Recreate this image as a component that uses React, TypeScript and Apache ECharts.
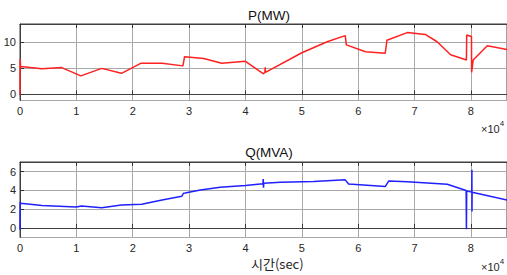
import React, { useEffect, useRef } from "react";
import * as echarts from "echarts";

const pTitle = "P(MW)";
const qTitle = "Q(MVA)";
const xName = "시간(sec)";

const pData: [number, number][] = [
  [0, 0], [30, 6.8], [100, 5.35], [3900, 4.95], [7400, 5.15], [10800, 3.57],
  [14500, 5.0], [18000, 4.05], [21500, 6.0], [25200, 6.0], [28900, 5.48],
  [29200, 7.25], [32600, 6.9], [35800, 6.0], [40000, 6.35], [43200, 3.95],
  [43450, 4.3], [43500, 5.2], [43550, 4.25], [50000, 8.0], [54500, 10.1],
  [57700, 11.27], [57900, 9.5], [61300, 8.2], [64800, 7.9], [65100, 10.4],
  [68700, 11.85], [71900, 11.5], [74000, 10.1], [76400, 7.6], [79200, 6.6],
  [79250, 11.4], [80100, 11.1], [80120, 4.25], [80400, 6.6], [82900, 9.35],
  [86400, 8.6],
];

const qData: [number, number][] = [
  [0, -0.2], [30, 2.8], [100, 2.62], [3900, 2.38], [10000, 2.23], [10900, 2.34],
  [14500, 2.16], [18000, 2.45], [21600, 2.52], [25200, 2.98], [28700, 3.37],
  [29000, 3.7], [29300, 3.72], [32000, 4.05], [35500, 4.34], [40000, 4.52],
  [43100, 4.72], [43150, 5.23], [43200, 4.3], [43250, 4.77], [46200, 4.88],
  [52100, 4.95], [57700, 5.13], [58300, 4.68], [64800, 4.41], [65400, 5.0],
  [68700, 4.93], [75800, 4.66], [79150, 4.0], [79200, -0.15], [79250, 3.95],
  [80150, 3.82], [80170, 6.2], [80190, 1.74], [80210, 3.8], [86400, 2.98],
];

const xMax = 86400;
const xInterval = 10000;

export default function App() {
  const ref = useRef<HTMLDivElement>(null);
  useEffect(() => {
    document.body.style.margin = "0";
    const chart = echarts.init(ref.current!, null, { renderer: "svg" });
    const font = "Liberation Sans, Arial, sans-serif";
    const gridLine = { show: true, lineStyle: { color: "#a8a8a8", width: 1 } };
    const tick = { show: true, inside: true, length: 4, lineStyle: { color: "#333" } };
    const axisLine = { show: true, lineStyle: { color: "#404040", width: 1 } };
    const label = { color: "#262626", fontSize: 11, fontFamily: font };
    const mkX = (gi: number) => ({
      type: "value",
      gridIndex: gi,
      min: 0,
      max: xMax,
      interval: xInterval,
      axisLine,
      axisTick: tick,
      splitLine: gridLine,
      axisLabel: {
        ...label,
        margin: 5,
        showMaxLabel: false,
        formatter: (v: number) => String(v / 10000),
      },
    });
    const mkXTop = (gi: number) => ({
      type: "value",
      gridIndex: gi,
      position: "top",
      min: 0,
      max: xMax,
      interval: xInterval,
      axisLine,
      axisTick: tick,
      splitLine: { show: false },
      axisLabel: { show: false },
    });
    const rich = {
      a: { fontSize: 11, fontFamily: font, fill: "#262626", padding: [4, 0, 0, 0] },
      b: { fontSize: 8, fontFamily: font, fill: "#262626", verticalAlign: "top", padding: [0, 0, 4, 0] },
    };
    chart.setOption({
      animation: false,
      grid: [
        { left: 20, top: 24, width: 487, height: 76.5, show: true, borderColor: "#404040", borderWidth: 1 },
        { left: 20, top: 162, width: 487, height: 75.5, show: true, borderColor: "#404040", borderWidth: 1 },
      ],
      title: [
        { text: pTitle, left: 264, top: 2, textAlign: "center", textStyle: { fontSize: 13.5, fontWeight: "normal", color: "#111", fontFamily: font, lineHeight: 16 } },
        { text: qTitle, left: 264, top: 139.5, textAlign: "center", textStyle: { fontSize: 13.5, fontWeight: "normal", color: "#111", fontFamily: font, lineHeight: 16 } },
      ],
      xAxis: [mkX(0), mkXTop(0), mkX(1), mkXTop(1)],
      yAxis: [
        {
          type: "value", gridIndex: 0, min: -1.15, max: 13.5, splitNumber: 3,
          axisLine, axisTick: tick, splitLine: gridLine,
          axisLabel: { ...label, margin: 4, showMinLabel: false, showMaxLabel: false },
        },
        {
          type: "value", gridIndex: 1, min: -1.03, max: 7.04, splitNumber: 4,
          axisLine, axisTick: tick, splitLine: gridLine,
          axisLabel: { ...label, margin: 4, showMinLabel: false, showMaxLabel: false },
        },
      ],
      series: [
        {
          type: "line", xAxisIndex: 0, yAxisIndex: 0, data: pData, showSymbol: false,
          lineStyle: { color: "#ff2020", width: 1.5 }, itemStyle: { color: "#ff2020" },
        },
        {
          type: "line", xAxisIndex: 2, yAxisIndex: 1, data: qData, showSymbol: false,
          lineStyle: { color: "#2020ff", width: 1.5 }, itemStyle: { color: "#2020ff" },
        },
      ],
      graphic: [
        { type: "text", left: 481, top: 119, style: { text: "{a|×10}{b|4}", rich } },
        { type: "text", left: 481, top: 257, style: { text: "{a|×10}{b|4}", rich } },
        {
          type: "text", left: 251, top: 256,
          style: { text: xName, fontSize: 13, lineHeight: 14, fontFamily: "Noto Sans CJK KR, sans-serif", fill: "#262626" },
        },
      ],
    });
    return () => chart.dispose();
  }, []);
  return <div ref={ref} style={{ width: 507, height: 275 }} />;
}
